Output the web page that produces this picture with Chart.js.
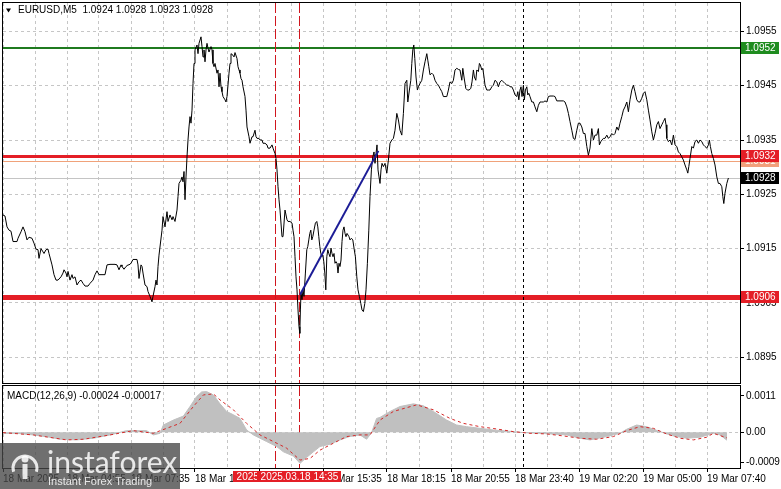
<!DOCTYPE html>
<html>
<head>
<meta charset="utf-8">
<script src="https://cdn.jsdelivr.net/npm/chart.js@4.4.1/dist/chart.umd.min.js"></script>
<style>
  html, body { margin: 0; padding: 0; background: #fff; }
  #wrap { position: relative; width: 781px; height: 489px; overflow: hidden; background: #fff; }
  #price { position: absolute; left: 0; top: 0; }
  #macd { position: absolute; left: 0; top: 385px; }
</style>
</head>
<body>
<div id="wrap">
  <canvas id="price" width="781" height="385" style="width:781px;height:385px"></canvas>
  <canvas id="macd" width="781" height="104" style="width:781px;height:104px"></canvas>
</div>
<script>
// EURUSD M5, bar index from 18 Mar 2025 02:15 (one bar = 5 min)
const priceBars = [
  0, 1, 2, 3, 4, 5, 7, 7.5, 9, 10,
  11, 12, 13, 14.5, 15.5, 16.5, 17.5, 18, 19, 20,
  20.5, 21.5, 22.5, 23, 24.5, 25.5, 26.5, 27.5, 29, 30,
  30.5, 31.5, 32, 32.5, 33.5, 34.5, 35, 36, 37, 38,
  39, 40, 41, 42.5, 43.5, 45, 46, 47, 48, 49.5,
  51, 52, 53.5, 56, 57, 58, 59, 59.5, 60.5, 61.5,
  62.5, 63, 64, 65, 67, 67.5, 68, 69, 69.5, 70,
  71, 72, 72.5, 73.5, 74.5, 75, 76, 76.5, 77, 77.5,
  78, 79.5, 80, 81, 82, 82.5, 83.5, 84.5, 85, 86,
  87, 87.5, 88, 89, 89.5, 90, 90.5, 91, 91.5, 92,
  92.5, 93, 93.5, 94, 94.5, 95, 95.5, 96, 97, 97.5,
  98, 99, 99.5, 100, 100.5, 101, 101.5, 102, 102.5, 103,
  104, 104.5, 105, 105.5, 106, 107, 107.5, 108, 108.5, 109,
  109.5, 110, 111, 111.5, 112, 113, 113.5, 114, 115, 115.5,
  116, 117, 117.5, 118, 118.5, 119, 119.5, 120, 121, 121.5,
  122, 123, 123.5, 124, 124.5, 125, 126, 126.5, 127, 128,
  128.5, 129.5, 130, 131, 132, 132.5, 133.5, 134.5, 135, 136,
  136.5, 137, 137.5, 138, 138.5, 139.5, 140, 141, 142, 142.5,
  143.5, 144.5, 145, 145.5, 146, 146.5, 147, 147.5, 148, 148.4,
  148.7, 149, 149.5, 150, 150.5, 151.2, 151.9, 152.4, 152.9, 153.4,
  153.9, 154.4, 154.9, 155.5, 156.2, 156.9, 157.4, 157.9, 158.4, 158.9,
  159.4, 159.9, 160.4, 160.9, 161.4, 161.9, 162.4, 162.9, 163.5, 164,
  164.5, 165, 165.5, 166, 166.5, 167, 167.5, 168, 168.5, 169,
  169.5, 170, 170.5, 171, 171.5, 172, 172.5, 173, 173.5, 174.2,
  174.9, 175.5, 176.2, 176.9, 177.5, 178.2, 178.9, 179.5, 180.2, 180.9,
  181.5, 182.2, 182.9, 183.5, 184.2, 184.9, 185.5, 186, 186.5, 187,
  187.5, 188, 188.5, 189, 189.5, 190.2, 191, 191.9, 192.7, 193.5,
  194.4, 195.2, 196, 196.9, 197.7, 198.5, 199.4, 200.2, 201, 201.9,
  202.4, 203.2, 203.9, 204.4, 204.9, 205.4, 205.9, 206.5, 207.2, 207.7,
  208.5, 209.4, 210.2, 211, 211.9, 212.4, 212.9, 213.5, 214.4, 215.2,
  216, 216.9, 217.7, 218.5, 219.4, 220.2, 221, 221.9, 222.7, 223.5,
  224.4, 225.2, 226, 226.9, 227.7, 228.5, 229.4, 229.9, 230.5, 231.4,
  232.2, 233, 233.9, 234.5, 235.2, 235.7, 236.4, 236.9, 237.7, 238.2,
  238.7, 239.4, 239.9, 240.5, 241, 241.9, 242.7, 243.5, 244.4, 245.2,
  246, 246.9, 247.7, 248.5, 249.4, 250.2, 251, 251.9, 252.7, 253.5,
  254.4, 255.2, 256, 256.9, 257.4, 257.9, 258.5, 259, 259.5, 260.2,
  260.7, 261.2, 261.9, 262.4, 262.9, 263.5, 264.4, 265.2, 266, 266.9,
  267.7, 268.5, 269.4, 270.2, 271, 271.9, 272.7, 273.5, 275.2, 276,
  276.9, 280.2, 281, 281.9, 282.7, 283.5, 284.4, 285.2, 286, 286.9,
  287.7, 288.5, 289.4, 290.2, 291, 291.9, 292.7, 293.5, 294.4, 295.2,
  296, 296.9, 297.7, 298.2, 298.9, 299.5, 300.2, 301, 301.9, 302.7,
  303.5, 304.4, 305.2, 306, 306.9, 307.7, 308.5, 309.4, 310.2, 311,
  311.9, 312.7, 313.5, 314.4, 315.2, 316, 316.9, 317.7, 318.5, 319.4,
  320.2, 321, 321.9, 322.7, 323.5, 324.4, 325.2, 326, 326.9, 327.7,
  328.5, 329.4, 330.2, 331, 331.5, 331.9, 332.7, 333.5, 334.4, 335.2,
  336, 336.9, 337.7, 338.5, 339.4, 340.2, 341, 341.9, 342.4, 342.9,
  343.5, 344.4, 345.2, 346, 346.9, 347.7, 348.5, 349.4, 350.2, 351,
  351.9, 352.7, 353.2, 353.7, 354.4, 355.2, 356, 356.9, 357.7, 358.5,
  359.4, 359.9, 360.4, 361, 361.9, 362.7
];
const priceClose = [
  1.09212, 1.09210, 1.09190, 1.09184, 1.09182, 1.09163, 1.09163, 1.09169, 1.09181, 1.09190,
  1.09181, 1.09166, 1.09171, 1.09169, 1.09160, 1.09149, 1.09148, 1.09132, 1.09150, 1.09144,
  1.09141, 1.09148, 1.09149, 1.09141, 1.09120, 1.09102, 1.09092, 1.09092, 1.09098, 1.09105,
  1.09111, 1.09105, 1.09098, 1.09108, 1.09092, 1.09102, 1.09095, 1.09098, 1.09083, 1.09089,
  1.09092, 1.09086, 1.09081, 1.09081, 1.09086, 1.09092, 1.09102, 1.09109, 1.09102, 1.09102,
  1.09102, 1.09120, 1.09121, 1.09121, 1.09120, 1.09111, 1.09120, 1.09117, 1.09112, 1.09117,
  1.09120, 1.09120, 1.09123, 1.09130, 1.09130, 1.09120, 1.09095, 1.09120, 1.09117, 1.09105,
  1.09083, 1.09080, 1.09071, 1.09062, 1.09052, 1.09062, 1.09080, 1.09092, 1.09083, 1.09117,
  1.09138, 1.09184, 1.09209, 1.09190, 1.09218, 1.09200, 1.09212, 1.09203, 1.09209, 1.09200,
  1.09221, 1.09246, 1.09270, 1.09276, 1.09282, 1.09273, 1.09292, 1.09240, 1.09282, 1.09319,
  1.09350, 1.09374, 1.09393, 1.09381, 1.09405, 1.09454, 1.09491, 1.09516, 1.09525, 1.09509,
  1.09528, 1.09540, 1.09522, 1.09503, 1.09516, 1.09494, 1.09516, 1.09528, 1.09519, 1.09512,
  1.09522, 1.09516, 1.09491, 1.09485, 1.09491, 1.09473, 1.09479, 1.09448, 1.09473, 1.09448,
  1.09439, 1.09430, 1.09424, 1.09420, 1.09430, 1.09473, 1.09491, 1.09509, 1.09506, 1.09503,
  1.09511, 1.09500, 1.09485, 1.09479, 1.09473, 1.09463, 1.09460, 1.09448, 1.09430, 1.09405,
  1.09374, 1.09356, 1.09344, 1.09350, 1.09356, 1.09356, 1.09368, 1.09356, 1.09353, 1.09353,
  1.09350, 1.09350, 1.09344, 1.09344, 1.09341, 1.09335, 1.09335, 1.09341, 1.09335, 1.09325,
  1.09316, 1.09295, 1.09264, 1.09240, 1.09221, 1.09172, 1.09172, 1.09221, 1.09203, 1.09200,
  1.09200, 1.09197, 1.09184, 1.09172, 1.09135, 1.09098, 1.09074, 1.09037, 1.09006, 1.08994,
  1.09037, 1.09068, 1.09056, 1.09074, 1.09062, 1.09105, 1.09148, 1.09154, 1.09166, 1.09178,
  1.09184, 1.09166, 1.09172, 1.09184, 1.09197, 1.09200, 1.09190, 1.09172, 1.09154, 1.09141,
  1.09135, 1.09138, 1.09126, 1.09105, 1.09074, 1.09135, 1.09148, 1.09141, 1.09135, 1.09151,
  1.09141, 1.09135, 1.09141, 1.09123, 1.09126, 1.09123, 1.09105, 1.09123, 1.09117, 1.09129,
  1.09163, 1.09184, 1.09190, 1.09178, 1.09172, 1.09178, 1.09175, 1.09172, 1.09166, 1.09169,
  1.09166, 1.09151, 1.09135, 1.09098, 1.09074, 1.09062, 1.09049, 1.09037, 1.09034, 1.09049,
  1.09074, 1.09123, 1.09184, 1.09246, 1.09295, 1.09319, 1.09328, 1.09307, 1.09325, 1.09341,
  1.09295, 1.09282, 1.09270, 1.09295, 1.09307, 1.09301, 1.09307, 1.09289, 1.09313, 1.09344,
  1.09350, 1.09353, 1.09368, 1.09399, 1.09387, 1.09368, 1.09359, 1.09399, 1.09454, 1.09460,
  1.09420, 1.09442, 1.09460, 1.09491, 1.09516, 1.09525, 1.09500, 1.09466, 1.09442, 1.09448,
  1.09454, 1.09460, 1.09479, 1.09494, 1.09509, 1.09497, 1.09485, 1.09470, 1.09473, 1.09470,
  1.09460, 1.09454, 1.09451, 1.09445, 1.09439, 1.09430, 1.09430, 1.09430, 1.09442, 1.09457,
  1.09454, 1.09460, 1.09479, 1.09482, 1.09480, 1.09479, 1.09460, 1.09482, 1.09466, 1.09445,
  1.09442, 1.09442, 1.09445, 1.09457, 1.09479, 1.09466, 1.09460, 1.09479, 1.09476, 1.09491,
  1.09488, 1.09479, 1.09482, 1.09466, 1.09451, 1.09442, 1.09442, 1.09442, 1.09448, 1.09451,
  1.09460, 1.09457, 1.09448, 1.09457, 1.09460, 1.09457, 1.09454, 1.09451, 1.09451, 1.09448,
  1.09448, 1.09442, 1.09433, 1.09430, 1.09439, 1.09424, 1.09442, 1.09448, 1.09430, 1.09451,
  1.09424, 1.09442, 1.09448, 1.09433, 1.09436, 1.09430, 1.09420, 1.09420, 1.09411, 1.09402,
  1.09414, 1.09420, 1.09420, 1.09420, 1.09422, 1.09420, 1.09430, 1.09431, 1.09431, 1.09430,
  1.09422, 1.09422, 1.09420, 1.09411, 1.09399, 1.09384, 1.09368, 1.09353, 1.09351, 1.09368,
  1.09381, 1.09381, 1.09374, 1.09362, 1.09362, 1.09338, 1.09322, 1.09335, 1.09371, 1.09350,
  1.09359, 1.09359, 1.09371, 1.09341, 1.09347, 1.09350, 1.09353, 1.09353, 1.09359, 1.09353,
  1.09356, 1.09362, 1.09359, 1.09362, 1.09374, 1.09368, 1.09381, 1.09393, 1.09405, 1.09411,
  1.09420, 1.09402, 1.09424, 1.09442, 1.09451, 1.09439, 1.09424, 1.09420, 1.09420, 1.09427,
  1.09436, 1.09439, 1.09424, 1.09405, 1.09387, 1.09365, 1.09350, 1.09362, 1.09378, 1.09384,
  1.09371, 1.09378, 1.09384, 1.09390, 1.09378, 1.09353, 1.09347, 1.09350, 1.09341, 1.09359,
  1.09341, 1.09338, 1.09328, 1.09325, 1.09319, 1.09313, 1.09304, 1.09295, 1.09289, 1.09301,
  1.09316, 1.09338, 1.09335, 1.09347, 1.09350, 1.09344, 1.09350, 1.09347, 1.09341, 1.09338,
  1.09335, 1.09341, 1.09350, 1.09338, 1.09325, 1.09316, 1.09304, 1.09282, 1.09270, 1.09270,
  1.09264, 1.09246, 1.09233, 1.09252, 1.09270, 1.09280
];

// trend line drawn on the chart
const trendBars = [148.5, 187.7];
const trendPrices = [1.09065, 1.09330];

// MACD(12,26,9)
const macdBars = [
  0, 6.8, 15.2, 23.5, 28.5, 36.8, 45.2, 53.5, 61.8, 71.8,
  75.2, 78.5, 80.2, 85.2, 90.2, 93.5, 96.8, 99.3, 101.8, 105.2,
  108.5, 111.8, 115.2, 118.5, 121.8, 125.2, 128.5, 131.8, 136.8, 140.2,
  145.2, 148.5, 151.8, 155.2, 158.5, 163.5, 168.5, 173.2, 178.5, 181.8,
  184.3, 186.8, 188.5, 193.5, 198.5, 205.2, 210.2, 215.2, 221.8, 226.8,
  231.8, 238.5, 245.2, 255.2, 260.2, 268.5, 281.8, 288.5, 293.5, 301.8,
  308.5, 311.8, 316.8, 321.8, 328.5, 335.2, 341.8, 348.5, 355.2, 358.5,
  362
];
const macdHist = [
  -0.00003, -0.00003, -0.00008, -0.00015, -0.00021, -0.00023, -0.00018, -0.00008, 0.00005, 0.00005,
  -0.00008, -0.00003, 0.00022, 0.00037, 0.00049, 0.00078, 0.00108, 0.00122, 0.00123, 0.00113,
  0.00086, 0.00063, 0.00053, 0.00042, 0.00007, -0.00008, -0.00018, -0.00028, -0.00043, -0.00059,
  -0.00072, -0.00094, -0.00076, -0.00059, -0.00043, -0.00036, -0.00023, -0.00013, -0.00008, -0.00021,
  -0.00001, 0.00042, 0.00045, 0.00063, 0.00078, 0.00086, 0.00080, 0.00063, 0.00037, 0.00022,
  0.00017, 0.00012, 0.00007, 0.00002, -0.00001, -0.00003, -0.00008, -0.00018, -0.00023, -0.00013,
  -0.00003, 0.00009, 0.00022, 0.00017, 0.00002, -0.00011, -0.00018, -0.00015, -0.00003, -0.00008,
  -0.00024
];
const signalBars = [
  0, 15.2, 31.8, 40.2, 53.5, 65.2, 75.2, 81.8, 88.5, 95.2,
  100.2, 105.2, 108.5, 115.2, 121.8, 128.5, 135.2, 141.8, 148.5, 153.5,
  158.5, 165.2, 171.8, 178.5, 183.5, 188.5, 195.2, 206.8, 215.2, 223.5,
  230.2, 238.5, 246.8, 255.2, 263.5, 271.8, 280.2, 288.5, 296.8, 305.2,
  311.8, 318.5, 325.2, 331.8, 338.5, 345.2, 351.8, 355.2, 362
];
const signalVals = [
  -0.00001, -0.00008, -0.00023, -0.00021, -0.00008, 0.00005, -0.00003, 0.00012, 0.00027, 0.00078,
  0.00113, 0.00116, 0.00098, 0.00068, 0.00027, -0.00008, -0.00028, -0.00048, -0.00084, -0.00079,
  -0.00054, -0.00033, -0.00013, -0.00008, -0.00008, 0.00037, 0.00063, 0.00083, 0.00068, 0.00042,
  0.00027, 0.00017, 0.00010, 0.00002, -0.00003, -0.00005, -0.00011, -0.00018, -0.00021, -0.00013,
  0.00005, 0.00017, 0.00012, -0.00005, -0.00018, -0.00023, -0.00015, -0.00003, -0.00017
];

// axes
const priceTicks = [1.0895, 1.0905, 1.0915, 1.0925, 1.0935, 1.0945, 1.0955];
const macdTicks = [0.0011, 0, -0.0009];
const timeLabels = ['18 Mar 2025', '18 Mar 04:55', '18 Mar 07:35', '18 Mar 10:15', '18 Mar 12:55', '18 Mar 15:35',
                    '18 Mar 18:15', '18 Mar 20:55', '18 Mar 23:40', '19 Mar 02:20', '19 Mar 05:00', '19 Mar 07:40'];
const gridBars = [];
for (let b = 0; b <= 352; b += 16) gridBars.push(b);

// horizontal levels and their right-hand price tags
const levelPrices = [1.0952, 1.09312, 1.0932, 1.0928, 1.0906];
const levelText = ['1.0952', '1.0931', '1.0932', '1.0928', '1.0906'];
const levelStyle = [
  { line: '#1f7a1f', width: 2, box: '#1f8c1f' },
  { line: '#f0a27a', width: 1, box: '#f2a07c' },
  { line: '#e41e26', width: 3, box: '#e41e26' },
  { line: '#c4c4c4', width: 1, box: '#000000' },
  { line: '#e41e26', width: 5, box: '#e41e26' }
];

// vertical markers
const markBars = [136, 148, 260];
const markTimes = ['2025.03.18 13:35', '2025.03.18 14:35'];
const markColor = ['#d0161e', '#d0161e', '#000000'];
const markDash = [[10, 3], [10, 3], [3, 3]];

const titleText = 'EURUSD,M5  1.0924 1.0928 1.0923 1.0928';
const macdText = 'MACD(12,26,9) -0.00024 -0.00017';

const FONT = '"Liberation Sans", Arial, sans-serif';
const gridColor = '#c6c6c6';
Chart.defaults.font.family = FONT;
Chart.defaults.color = '#000';

function drawMarks(ctx, x, top, bottom) {
  markBars.forEach((b, i) => {
    const px = Math.round(x.getPixelForValue(b)) + 0.5;
    ctx.strokeStyle = markColor[i];
    ctx.lineWidth = 1;
    ctx.setLineDash(markDash[i]);
    ctx.beginPath();
    ctx.moveTo(px, top);
    ctx.lineTo(px, bottom);
    ctx.stroke();
  });
  ctx.setLineDash([]);
}

function frame(ctx, a) {
  ctx.strokeStyle = '#000';
  ctx.lineWidth = 1;
  ctx.strokeRect(a.left - 0.5, a.top - 0.5, a.right - a.left + 1, a.bottom - a.top + 1);
}

// no extra room for edge labels, the pane edges are fixed
function noPad(s) {
  s.paddingTop = 0; s.paddingBottom = 0; s.paddingLeft = 0; s.paddingRight = 0;
}

const mainDeco = {
  id: 'mainDeco',
  beforeDatasetsDraw(chart) {
    const { ctx, chartArea: a, scales } = chart;
    ctx.save();
    ctx.beginPath();
    ctx.rect(a.left, a.top, a.right - a.left, a.bottom - a.top);
    ctx.clip();
    levelPrices.forEach((p, i) => {
      const st = levelStyle[i];
      let py = Math.round(scales.y.getPixelForValue(p));
      if (st.width % 2) py += 0.5;
      ctx.strokeStyle = st.line;
      ctx.lineWidth = st.width;
      ctx.beginPath();
      ctx.moveTo(a.left, py);
      ctx.lineTo(a.right, py);
      ctx.stroke();
    });
    drawMarks(ctx, scales.x, a.top, a.bottom);
    ctx.restore();
  },
  afterDraw(chart) {
    const { ctx, chartArea: a, scales } = chart;
    ctx.save();
    frame(ctx, a);
    ctx.font = '10px ' + FONT;
    ctx.textBaseline = 'middle';
    levelPrices.forEach((p, i) => {
      const py = Math.round(scales.y.getPixelForValue(p));
      ctx.fillStyle = levelStyle[i].box;
      ctx.fillRect(a.right + 1, py - 6, 38, 12);
      ctx.fillStyle = '#fff';
      ctx.fillText(levelText[i], a.right + 5, py + 0.5);
    });
    ctx.fillStyle = '#000';
    ctx.beginPath();
    ctx.moveTo(6, 8.5); ctx.lineTo(11, 8.5); ctx.lineTo(8.5, 12.5);
    ctx.closePath();
    ctx.fill();
    ctx.fillText(titleText, 18, 10.5);
    ctx.restore();
  }
};

const macdDeco = {
  id: 'macdDeco',
  beforeDatasetsDraw(chart) {
    const { ctx, chartArea: a, scales } = chart;
    ctx.save();
    ctx.beginPath();
    ctx.rect(a.left, a.top, a.right - a.left, a.bottom - a.top);
    ctx.clip();
    drawMarks(ctx, scales.x, a.top, a.bottom);
    ctx.restore();
  },
  afterDraw(chart) {
    const { ctx, chartArea: a, scales } = chart;
    ctx.save();
    frame(ctx, a);
    ctx.font = '10px ' + FONT;
    ctx.fillStyle = '#000';
    ctx.textBaseline = 'middle';
    ctx.fillText(macdText, 7, 11);

    // crosshair time tags
    ctx.textAlign = 'center';
    markTimes.forEach((t, i) => {
      const px = scales.x.getPixelForValue(markBars[i]);
      const w = Math.round(ctx.measureText(t).width + 6);
      ctx.fillStyle = '#e41e26';
      ctx.fillRect(Math.round(px - w / 2), a.bottom + 3, w, 11);
      ctx.fillStyle = '#fff';
      ctx.fillText(t, px + 0.5, a.bottom + 9);
    });

    // watermark
    ctx.fillStyle = 'rgba(70,70,70,0.78)';
    ctx.fillRect(0, 58, 180, 46);
    ctx.fillStyle = 'rgba(255,255,255,0.85)';
    ctx.strokeStyle = 'rgba(255,255,255,0.85)';
    ctx.lineWidth = 3;
    ctx.beginPath();
    ctx.arc(25, 83, 12, Math.PI * 0.9, Math.PI * 2.1);
    ctx.stroke();
    ctx.beginPath();
    ctx.arc(25, 74, 3.5, 0, Math.PI * 2);
    ctx.fill();
    ctx.fillRect(22.5, 79, 5, 15);
    ctx.textAlign = 'left';
    ctx.textBaseline = 'alphabetic';
    ctx.font = '30px Lato';
    ctx.fillText('instaforex', 47, 88);
    ctx.font = '11px ' + FONT;
    ctx.fillText('Instant Forex Trading', 48, 100);
    ctx.restore();
  }
};

const xBase = {
  type: 'linear',
  min: 0,
  max: 368.5,
  afterBuildTicks: s => { s.ticks = gridBars.map(v => ({ value: v })); },
  border: { display: false, dash: [3, 3] }
};

new Chart(document.getElementById('price'), {
  type: 'line',
  data: {
    datasets: [
      {
        data: trendBars.map((b, i) => ({ x: b, y: trendPrices[i] })),
        borderColor: '#1c1c96', borderWidth: 2, pointRadius: 0, order: 0
      },
      {
        data: priceBars.map((b, i) => ({ x: b, y: priceClose[i] })),
        borderColor: '#000', borderWidth: 1, pointRadius: 0, tension: 0, order: 1
      }
    ]
  },
  options: {
    responsive: false,
    animation: false,
    events: [],
    layout: { padding: { left: 3, top: 3, right: 0, bottom: 2 } },
    plugins: { legend: { display: false }, tooltip: { enabled: false } },
    scales: {
      x: Object.assign({}, xBase, {
        afterFit: s => { s.height = 0; noPad(s); },
        ticks: { display: false },
        grid: { color: gridColor, drawTicks: false, borderDash: [3, 3] }
      }),
      y: {
        type: 'linear',
        position: 'right',
        min: 1.089025,
        max: 1.096023,
        afterBuildTicks: s => { s.ticks = priceTicks.map(v => ({ value: v })); },
        afterFit: s => { s.width = 41; noPad(s); },
        ticks: { padding: 2, font: { size: 10 }, color: '#000', callback: v => v.toFixed(4) },
        grid: { color: gridColor, tickColor: '#000', tickLength: 4, borderDash: [3, 3] },
        border: { display: false, dash: [3, 3] }
      }
    }
  },
  plugins: [mainDeco]
});

new Chart(document.getElementById('macd'), {
  type: 'line',
  data: {
    datasets: [
      {
        data: signalBars.map((b, i) => ({ x: b, y: signalVals[i] })),
        borderColor: '#d42828', borderWidth: 1, borderDash: [3, 3], pointRadius: 0, order: 0
      },
      {
        data: macdBars.map((b, i) => ({ x: b, y: macdHist[i] })),
        borderColor: '#c0c0c0', backgroundColor: '#c0c0c0', borderWidth: 1,
        fill: 'origin', pointRadius: 0, order: 1
      }
    ]
  },
  options: {
    responsive: false,
    animation: false,
    events: [],
    layout: { padding: { left: 3, top: 1, right: 0, bottom: 0 } },
    plugins: { legend: { display: false }, tooltip: { enabled: false } },
    scales: {
      x: Object.assign({}, xBase, {
        afterFit: s => { s.height = 21; noPad(s); },
        ticks: {
          display: true, align: 'start', autoSkip: false, maxRotation: 0, minRotation: 0,
          padding: 1, font: { size: 10 }, color: '#000',
          callback: v => (v % 32 === 0 ? timeLabels[v / 32] : '')
        },
        grid: {
          color: gridColor, drawTicks: true, tickLength: 4, borderDash: [3, 3],
          tickColor: c => (c.tick && c.tick.value % 32 === 0 ? '#000' : 'rgba(0,0,0,0)')
        }
      }),
      y: {
        type: 'linear',
        position: 'right',
        min: -0.00108,
        max: 0.0014,
        afterBuildTicks: s => { s.ticks = macdTicks.map(v => ({ value: v })); },
        afterFit: s => { s.width = 41; noPad(s); },
        ticks: { padding: 2, font: { size: 10 }, color: '#000', callback: v => (v === 0 ? '0.00' : v.toFixed(4)) },
        grid: {
          color: c => (c.tick && c.tick.value === 0 ? gridColor : 'rgba(0,0,0,0)'),
          tickColor: '#000', tickLength: 4, borderDash: [3, 3]
        },
        border: { display: false, dash: [3, 3] }
      }
    }
  },
  plugins: [macdDeco]
});
</script>
</body>
</html>
